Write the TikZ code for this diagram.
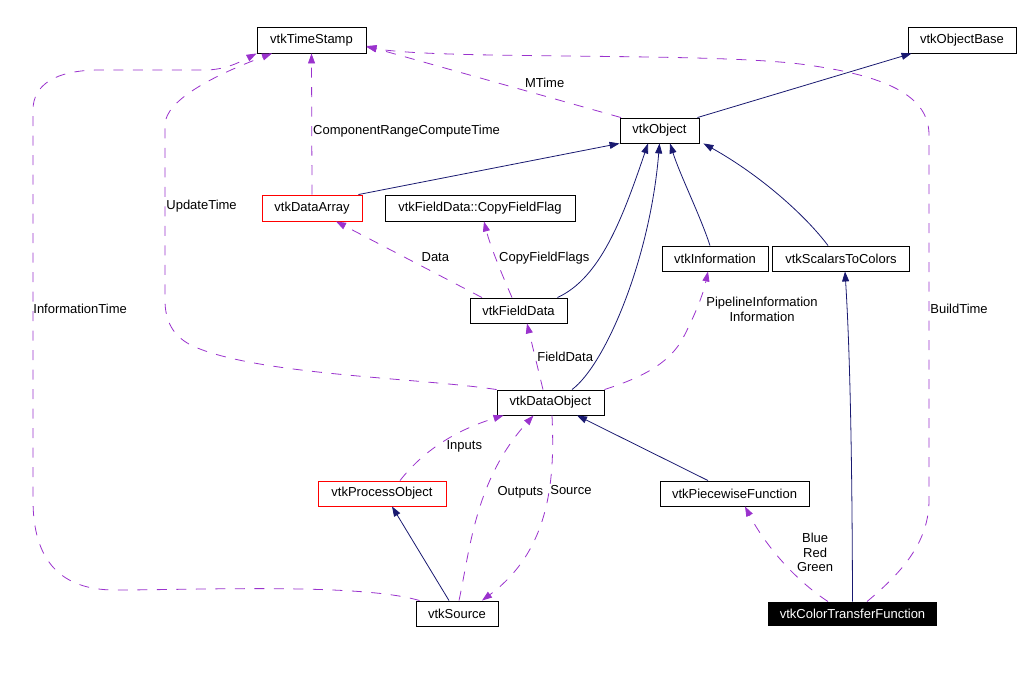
\documentclass[tikz,border=0pt]{standalone}
\usepackage{fontspec}
\setmainfont{Liberation Sans}
\usetikzlibrary{arrows.meta}
\definecolor{inhblue}{HTML}{191970}
\definecolor{mempurple}{HTML}{9A32CD}

\begin{document}
\begin{tikzpicture}[x=1pt, y=-1pt, font=\fontsize{13}{14.5}\selectfont,
    cls/.style={rectangle, draw, line width=0.9pt, minimum height=26pt, inner sep=0pt},
    inherit/.style={draw=inhblue, line width=0.8pt, -{Triangle[length=10pt,width=7pt]}},
    member/.style={draw=mempurple, line width=0.8pt, dash pattern=on 10pt off 9.5pt,
      -{Triangle[length=10pt,width=7pt]}},
    lbl/.style={inner sep=0pt, align=center}]
    \useasboundingbox (0,0) rectangle (1031,676);
    \begin{scope}[every node/.style={cls}]
      \node[minimum width=109pt] (ts) at (311.5,40) {vtkTimeStamp};
      \node[minimum width=108pt] (base) at (962,40) {vtkObjectBase};
      \node[minimum width=79pt, minimum height=25pt] (obj) at (659.5,130.5) {vtkObject};
      \node[draw=red, minimum width=100pt] (arr) at (312,208) {vtkDataArray};
      \node[minimum width=190pt] (flag) at (480,208) {vtkFieldData::CopyFieldFlag};
      \node[minimum width=97pt, minimum height=25pt] (fd) at (518.5,310.5) {vtkFieldData};
      \node[minimum width=106pt, minimum height=25pt] (info) at (715,258.5) {vtkInformation};
      \node[minimum width=137pt, minimum height=25pt] (s2c) at (841,258.5) {vtkScalarsToColors};
      \node[minimum width=107pt, minimum height=25pt] (dobj) at (550.5,402.5) {vtkDataObject};
      \node[draw=red, minimum width=128pt, minimum height=25pt] (proc) at (382,493.5) {vtkProcessObject};
      \node[minimum width=82pt, minimum height=25pt] (src) at (457,613.5) {vtkSource};
      \node[minimum width=149pt, minimum height=25pt] (pw) at (734.5,493.5) {vtkPiecewiseFunction};
      \node[fill=black, text=white, minimum width=168pt, minimum height=23pt] (ctf) at (852.5,613.5) {vtkColorTransferFunction};
    \end{scope}
    \begin{scope}[inherit]
      \draw ([xshift=-2pt]obj.north east) -- ([xshift=4pt]base.south west);
      \draw ([xshift=-4pt]arr.north east) -- (obj.south west);
      \draw ([xshift=-10pt]fd.north east) .. controls (600,278) and (622,220) .. ([xshift=-11.5pt]obj.south);
      \draw ([xshift=21.5pt]dobj.north) .. controls (605,365) and (650,260) .. (obj.south);
      \draw ([xshift=-5pt]info.north) .. controls (700,215) and (680,175) .. ([xshift=10.5pt]obj.south);
      \draw ([xshift=-13pt]s2c.north) .. controls (805,215) and (760,175) .. ([xshift=4pt]obj.south east);
      \draw (ctf.north) .. controls (852,400) and (848,320) .. ([xshift=4pt]s2c.south);
      \draw ([xshift=-26.5pt]pw.north) -- ([xshift=26.5pt]dobj.south);
      \draw ([xshift=-8pt]src.north) -- ([xshift=10pt]proc.south);
    \end{scope}
    \begin{scope}[member]
      \draw ([xshift=-38.5pt]obj.north) -- node[lbl, pos=0.3, anchor=south, yshift=8pt] {MTime} ([yshift=-6pt]ts.east);
      \draw (arr.north) -- node[lbl, pos=0.45, anchor=west, xshift=1pt] {ComponentRangeComputeTime} (ts.south);
      \draw (dobj.north west) .. controls (420,378) and (260,375) .. (195,347)
        .. controls (172,337) and (165,320) .. (165,300)
        -- node[lbl, pos=0.537, anchor=west, xshift=1pt] {UpdateTime} (165,125)
        .. controls (165,100) and (215,75) .. ([xshift=-39.5pt]ts.south);
      \draw ([xshift=4pt]src.north west) .. controls (360,583) and (200,590) .. (115,590)
        .. controls (60,590) and (33,560) .. (33,500)
        -- node[lbl, pos=0.49, anchor=west] {InformationTime} (33,110)
        .. controls (33,85) and (55,70) .. (100,70) -- (205,70)
        .. controls (225,70) and (240,62) .. (ts.south west);
      \draw ([xshift=14.5pt]ctf.north) .. controls (905,570) and (929,540) .. (929,500)
        -- node[lbl, pos=0.523, anchor=west, xshift=1pt] {BuildTime} (929,135)
        .. controls (929,95) and (885,75) .. (800,64)
        .. controls (700,52) and (440,60) .. ([yshift=-7pt]ts.east);
      \draw ([xshift=-36.5pt]fd.north) -- node[lbl, pos=0.43, anchor=south west, xshift=2pt, yshift=3pt] {Data} ([xshift=24pt]arr.south);
      \draw ([xshift=-6.5pt]fd.north) .. controls (500,270) and (490,245) .. node[lbl, pos=0.5, anchor=west, xshift=3pt] {CopyFieldFlags} ([xshift=4pt]flag.south);
      \draw ([xshift=-7.5pt]dobj.north) -- node[lbl, pos=0.5, anchor=west, xshift=2pt] {FieldData} ([xshift=8.5pt]fd.south);
      \draw (dobj.north east) .. controls (650,375) and (670,360) .. (682,340)
        .. controls (695,315) and (703,295) .. node[lbl, pos=0.5, anchor=west, xshift=8pt, yshift=-4pt] {PipelineInformation\\Information} ([xshift=-7pt]info.south);
      \draw ([xshift=18pt]proc.north) .. controls (420,455) and (450,432) .. node[lbl, pos=0.5, anchor=west, xshift=7pt, yshift=-2pt] {Inputs} ([xshift=-47pt]dobj.south);
      \draw ([xshift=2pt]src.north) .. controls (470,550) and (475,480) .. node[lbl, pos=0.6, anchor=west, xshift=12pt, yshift=2pt] {Outputs} ([xshift=-17pt]dobj.south);
      \draw ([xshift=1.5pt]dobj.south) .. controls (555,480) and (550,550) .. node[lbl, pos=0.38, anchor=west, xshift=1pt] {Source} ([xshift=25pt]src.north);
      \draw ([xshift=-24.5pt]ctf.north) .. controls (795,580) and (765,545) .. node[lbl, pos=0.5, anchor=west, xshift=15pt, yshift=8pt] {Blue\\Red\\Green} ([xshift=10.5pt]pw.south);
    \end{scope}
  \end{tikzpicture}
\end{document}
